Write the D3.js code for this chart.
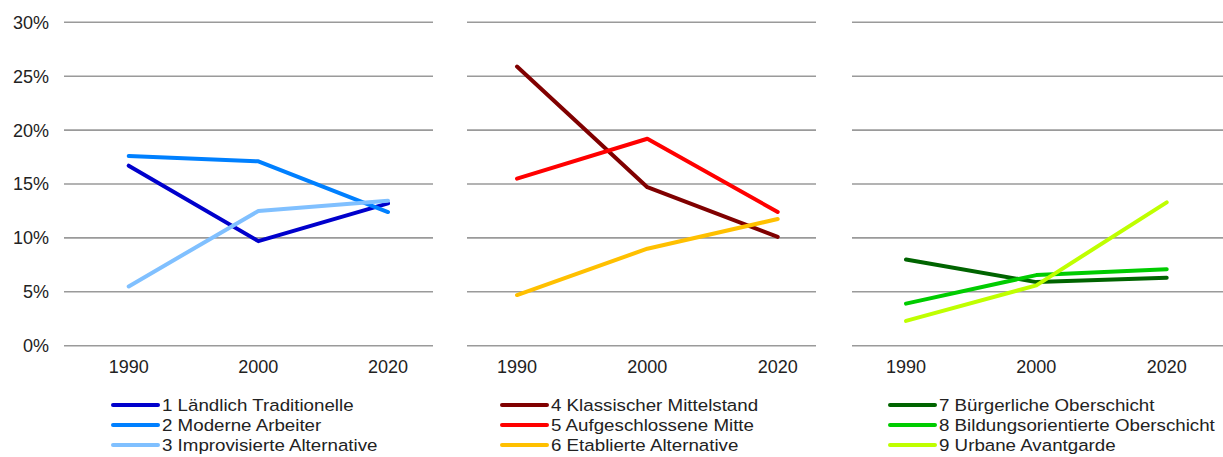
<!DOCTYPE html>
<html><head><meta charset="utf-8">
<script src="https://cdn.jsdelivr.net/npm/d3@7"></script>
<style>body{margin:0;background:#fff}svg{display:block}text{font-family:"Liberation Sans",Arial,sans-serif}</style>
</head><body><svg id="c" width="1223" height="457"></svg>
<script>
const years = ["1990","2000","2020"];
const yTicks = [0,5,10,15,20,25,30];
const seriesNames = [
  "1 Ländlich Traditionelle","2 Moderne Arbeiter","3 Improvisierte Alternative",
  "4 Klassischer Mittelstand","5 Aufgeschlossene Mitte","6 Etablierte Alternative",
  "7 Bürgerliche Oberschicht","8 Bildungsorientierte Oberschicht","9 Urbane Avantgarde"];
const seriesColors = ["#0000cc","#0080ff","#80c0ff","#800000","#ff0000","#ffc000","#006400","#00cc00","#bfff00"];
const seriesPanel = [0,0,0,1,1,1,2,2,2];
const v1 = [16.7, 9.7, 13.2];
const v2 = [17.6, 17.1, 12.4];
const v3 = [5.5, 12.5, 13.45];
const v4 = [25.9, 14.7, 10.1];
const v5 = [15.5, 19.2, 12.4];
const v6 = [4.7, 9.0, 11.75];
const v7 = [8.0, 5.9, 6.3];
const v8 = [3.9, 6.55, 7.1];
const v9 = [2.3, 5.6, 13.3];
const seriesValues = [v1,v2,v3,v4,v5,v6,v7,v8,v9];

const svg = d3.select("#c");
const y = d3.scaleLinear().domain([0,30]).range([345.7,22.3]);
const panels = [
  {grid:[64,433], pts:[128.7,388], leg:113},
  {grid:[467,816], pts:[517,777.7], leg:502},
  {grid:[852,1223], pts:[906,1166.7], leg:890}
];
panels.forEach((p,i)=>{
  p.x = d3.scalePoint().domain(years).range(p.pts);
  const g = svg.append("g");
  g.selectAll("line.grid").data(yTicks).join("line")
    .attr("x1",p.grid[0]).attr("x2",p.grid[1])
    .attr("y1",d=>y(d)).attr("y2",d=>y(d))
    .attr("stroke","#9a9a9a").attr("stroke-width",1.6);
  g.selectAll("text.xl").data(years).join("text")
    .attr("x",d=>p.x(d)).attr("y",373).attr("text-anchor","middle")
    .attr("font-size",18).attr("fill","#222").text(d=>d);
});
svg.append("g").selectAll("text").data(yTicks).join("text")
  .attr("x",49).attr("y",d=>y(d)).attr("dy","0.36em").attr("text-anchor","end")
  .attr("font-size",18).attr("fill","#222").text(d=>d+"%");

const line = d3.line();
seriesValues.forEach((vals,i)=>{
  const p = panels[seriesPanel[i]];
  svg.append("path")
    .attr("d", line(years.map((yr,j)=>[p.x(yr), y(vals[j])])))
    .attr("fill","none").attr("stroke",seriesColors[i]).attr("stroke-width",4)
    .attr("stroke-linejoin","round").attr("stroke-linecap","round");
});
// legend
const rowY = [405,425,445];
seriesNames.forEach((n,i)=>{
  const p = panels[seriesPanel[i]];
  const ry = rowY[i%3];
  svg.append("line").attr("x1",p.leg).attr("x2",p.leg+45).attr("y1",ry).attr("y2",ry)
    .attr("stroke",seriesColors[i]).attr("stroke-width",4).attr("stroke-linecap","round");
  svg.append("text").attr("transform",`translate(${p.leg+49},${ry}) scale(1.15,1)`)
    .attr("dy","0.36em")
    .attr("font-size",16.3).attr("fill","#222").text(n);
});
</script></body></html>
